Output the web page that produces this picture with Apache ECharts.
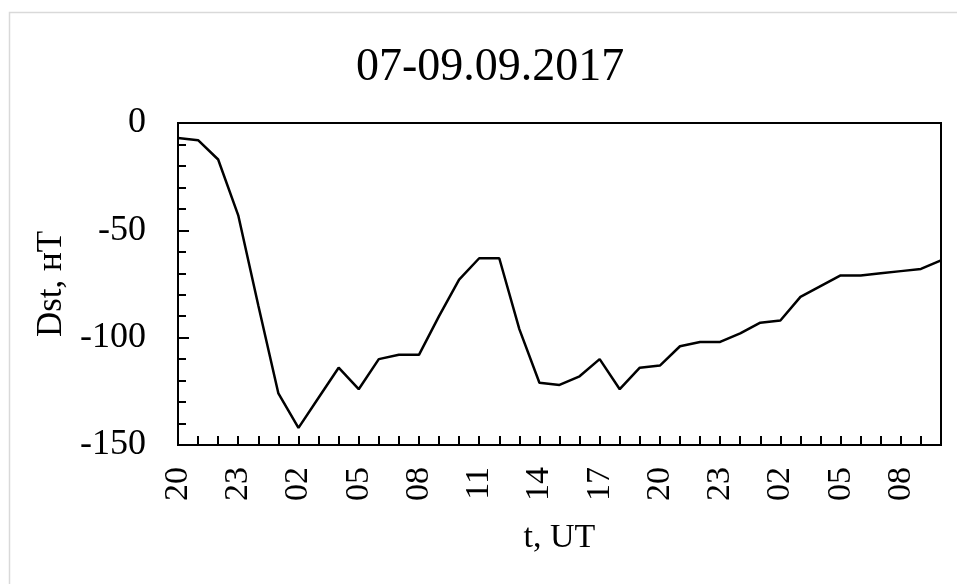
<!DOCTYPE html>
<html>
<head>
<meta charset="utf-8">
<script src="https://cdn.jsdelivr.net/npm/echarts@6/dist/echarts.min.js"></script>
<style>
  html, body { margin: 0; padding: 0; background: #fff; }
  #main { width: 957px; height: 584px; }
</style>
</head>
<body>
<div id="main"></div>
<script>
// hours UT, 7 Sep 20:00 .. 9 Sep 10:00
var hours = ['20', '21', '22', '23', '00', '01', '02', '03', '04', '05', '06', '07', '08',
  '09', '10', '11', '12', '13', '14', '15', '16', '17', '18', '19', '20', '21', '22', '23',
  '00', '01', '02', '03', '04', '05', '06', '07', '08', '09', '10'];
// Dst, nT
var dst = [-7, -8, -17, -43, -85, -126, -142, -128, -114, -124, -110, -108, -108,
  -90, -73, -63, -63, -96, -121, -122, -118, -110, -124, -114, -113, -104, -102, -102,
  -98, -93, -92, -81, -76, -71, -71, -70, -69, -68, -64];
var yTicks = [0, -50, -100, -150];

var serif = "'Liberation Serif', 'Times New Roman', serif";
var myChart = echarts.init(document.getElementById('main'));
var option = {
	backgroundColor: '#fff',
	animation: false,
	graphic: [{
		type: 'rect',
		shape: { x: 9.5, y: 12.5, width: 960, height: 600 },
		style: { fill: 'none', stroke: '#d9d9d9', lineWidth: 1.5 }
	}],
	title: {
		text: '07-09.09.2017',
		left: 351,
		top: 40,
		textStyle: {
			fontFamily: serif,
			fontWeight: 'normal',
			fontSize: 46,
			color: '#000'
		}
	},
	grid: {
		left: 178,
		top: 123,
		right: 16,
		bottom: 139,
		show: true,
		borderColor: '#000',
		borderWidth: 2,
		containLabel: false
	},
	xAxis: {
		type: 'category',
		data: hours,
		boundaryGap: false,
		name: 't, UT',
		nameLocation: 'middle',
		nameGap: 76,
		nameTextStyle: { fontFamily: serif, fontSize: 34, color: '#000' },
		axisLine: { onZero: false, lineStyle: { color: '#000', width: 2 } },
		axisTick: { inside: true, interval: 0, length: 9, lineStyle: { color: '#000', width: 2 } },
		axisLabel: {
			interval: 2,
			rotate: 90,
			margin: 22,
			fontFamily: serif,
			fontSize: 34,
			color: '#000'
		},
		splitLine: { show: false }
	},
	yAxis: {
		type: 'value',
		min: -150,
		max: 0,
		interval: 50,
		name: 'Dst, нТ',
		nameLocation: 'middle',
		nameGap: 109,
		nameTextStyle: { fontFamily: serif, fontSize: 35, color: '#000' },
		axisLine: { show: true, lineStyle: { color: '#000', width: 2 } },
		axisTick: { show: true, inside: true, length: 11, lineStyle: { color: '#000', width: 2 } },
		minorTick: { show: true, splitNumber: 5, length: 8, lineStyle: { color: '#000', width: 2 } },
		axisLabel: {
			margin: 32,
			fontFamily: serif,
			fontSize: 36,
			color: '#000',
			customValues: yTicks
		},
		splitLine: { show: false }
	},
	series: [{
		type: 'line',
		data: dst,
		symbol: 'none',
		lineStyle: { color: '#000', width: 2.5 }
	}]
};
myChart.setOption(option);
</script>
</body>
</html>
